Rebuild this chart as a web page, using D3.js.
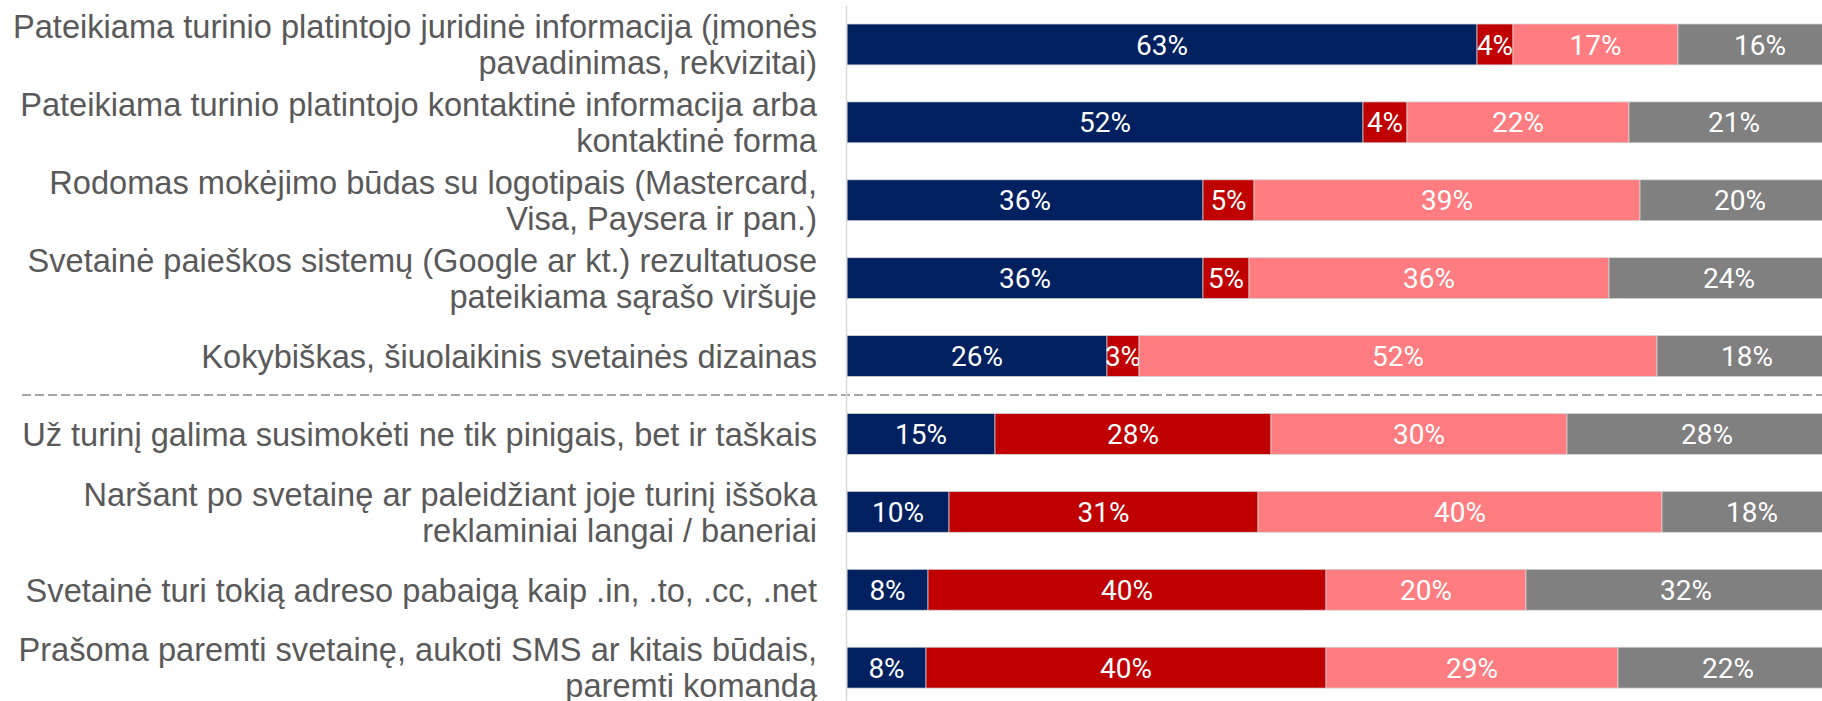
<!DOCTYPE html>
<html>
<head>
<meta charset="utf-8">
<script src="https://cdn.jsdelivr.net/npm/d3@7"></script>
<style>
  html, body { margin: 0; padding: 0; background: #fff; overflow: hidden; }
  svg { display: block; }
</style>
</head>
<body>
<svg id="chart" width="1822" height="701"></svg>
<script>
// Category labels (each entry = lines of the label)
const categories = [
  ["Pateikiama turinio platintojo juridinė informacija (įmonės", "pavadinimas, rekvizitai)"],
  ["Pateikiama turinio platintojo kontaktinė informacija arba", "kontaktinė forma"],
  ["Rodomas mokėjimo būdas su logotipais (Mastercard,", "Visa, Paysera ir pan.)"],
  ["Svetainė paieškos sistemų (Google ar kt.) rezultatuose", "pateikiama sąrašo viršuje"],
  ["Kokybiškas, šiuolaikinis svetainės dizainas"],
  ["Už turinį galima susimokėti ne tik pinigais, bet ir taškais"],
  ["Naršant po svetainę ar paleidžiant joje turinį iššoka", "reklaminiai langai / baneriai"],
  ["Svetainė turi tokią adreso pabaigą kaip .in, .to, .cc, .net"],
  ["Prašoma paremti svetainę, aukoti SMS ar kitais būdais,", "paremti komandą"]
];

// Series values (percent), one per category
const series1 = [63.0, 51.6, 35.6, 35.6, 26.0, 14.8, 10.2, 8.1, 7.9];   // navy
const series2 = [3.6, 4.4, 5.1, 4.6, 3.2, 27.6, 30.9, 39.8, 40.0];      // dark red
const series3 = [16.5, 22.2, 38.6, 36.0, 51.8, 29.6, 40.4, 20.0, 29.2]; // pink
const series4 = [16.4, 21.0, 20.0, 24.0, 18.0, 28.0, 18.0, 32.0, 22.0]; // gray

const seriesKeys = ["s1", "s2", "s3", "s4"];
const seriesColors = ["#002060", "#C00000", "#FF7C80", "#808080"];
const separatorAfter = 4; // dashed line after 5th category

const data = categories.map((c, i) => ({
  id: i, lines: c,
  s1: series1[i], s2: series2[i], s3: series3[i], s4: series4[i]
}));

const svg = d3.select("#chart");

const x = d3.scaleLinear().domain([0, 100]).range([847, 1847]);
const y = d3.scaleBand()
  .domain(data.map(d => d.id))
  .range([5.5, 5.5 + 9 * 77.9])
  .paddingInner(0.475)
  .paddingOuter(0.2375);

const stack = d3.stack().keys(seriesKeys);
const stacked = stack(data);

// separator dashed line
const sepY = (y(separatorAfter) + y.bandwidth() + y(separatorAfter + 1)) / 2;
svg.append("line")
  .attr("x1", 22).attr("x2", 1822)
  .attr("y1", sepY).attr("y2", sepY)
  .attr("stroke", "#a6a6a6")
  .attr("stroke-width", 2)
  .attr("stroke-dasharray", "9,4");

const layers = svg.append("g").selectAll("g")
  .data(stacked).join("g")
  .attr("fill", (d, i) => seriesColors[i]);

layers.selectAll("rect")
  .data(d => d).join("rect")
  .attr("x", d => x(d[0]))
  .attr("y", d => y(d.data.id))
  .attr("width", d => x(d[1]) - x(d[0]))
  .attr("height", y.bandwidth())
  .attr("stroke", "#d6d6d6")
  .attr("stroke-width", 0.75);

// value labels
layers.selectAll("text")
  .data(d => d).join("text")
  .attr("x", d => (x(d[0]) + x(d[1])) / 2)
  .attr("y", d => y(d.data.id) + y.bandwidth() / 2)
  .attr("dy", "0.36em")
  .attr("text-anchor", "middle")
  .attr("fill", "#ffffff")
  .attr("font-family", "Roboto, sans-serif")
  .attr("font-size", 28)
  .text(d => Math.round(d[1] - d[0]) + "%");

// axis line (category axis)
const yAxis = d3.axisLeft(y).tickSize(0).tickFormat("");
svg.append("g")
  .attr("transform", "translate(846.5,0)")
  .call(yAxis)
  .call(g => g.select(".domain").attr("d", "M0,6V701").attr("stroke", "#d9d9d9").attr("stroke-width", 1.5));

// category labels
const lineH = 36;
const labels = svg.append("g")
  .attr("font-family", "'Liberation Sans', Arial, sans-serif")
  .attr("font-size", 32.6)
  .attr("fill", "#595959")
  .attr("text-anchor", "end");

labels.selectAll("text")
  .data(data).join("text")
  .attr("transform", d => {
    const cy = y(d.id) + y.bandwidth() / 2;
    const n = d.lines.length;
    return `translate(817,${cy - (n - 1) * lineH / 2})`;
  })
  .each(function(d) {
    d3.select(this).selectAll("tspan")
      .data(d.lines).join("tspan")
      .attr("x", 0)
      .attr("y", (l, i) => i * lineH)
      .attr("dy", "0.36em")
      .text(l => l);
  });
</script>
</body>
</html>
